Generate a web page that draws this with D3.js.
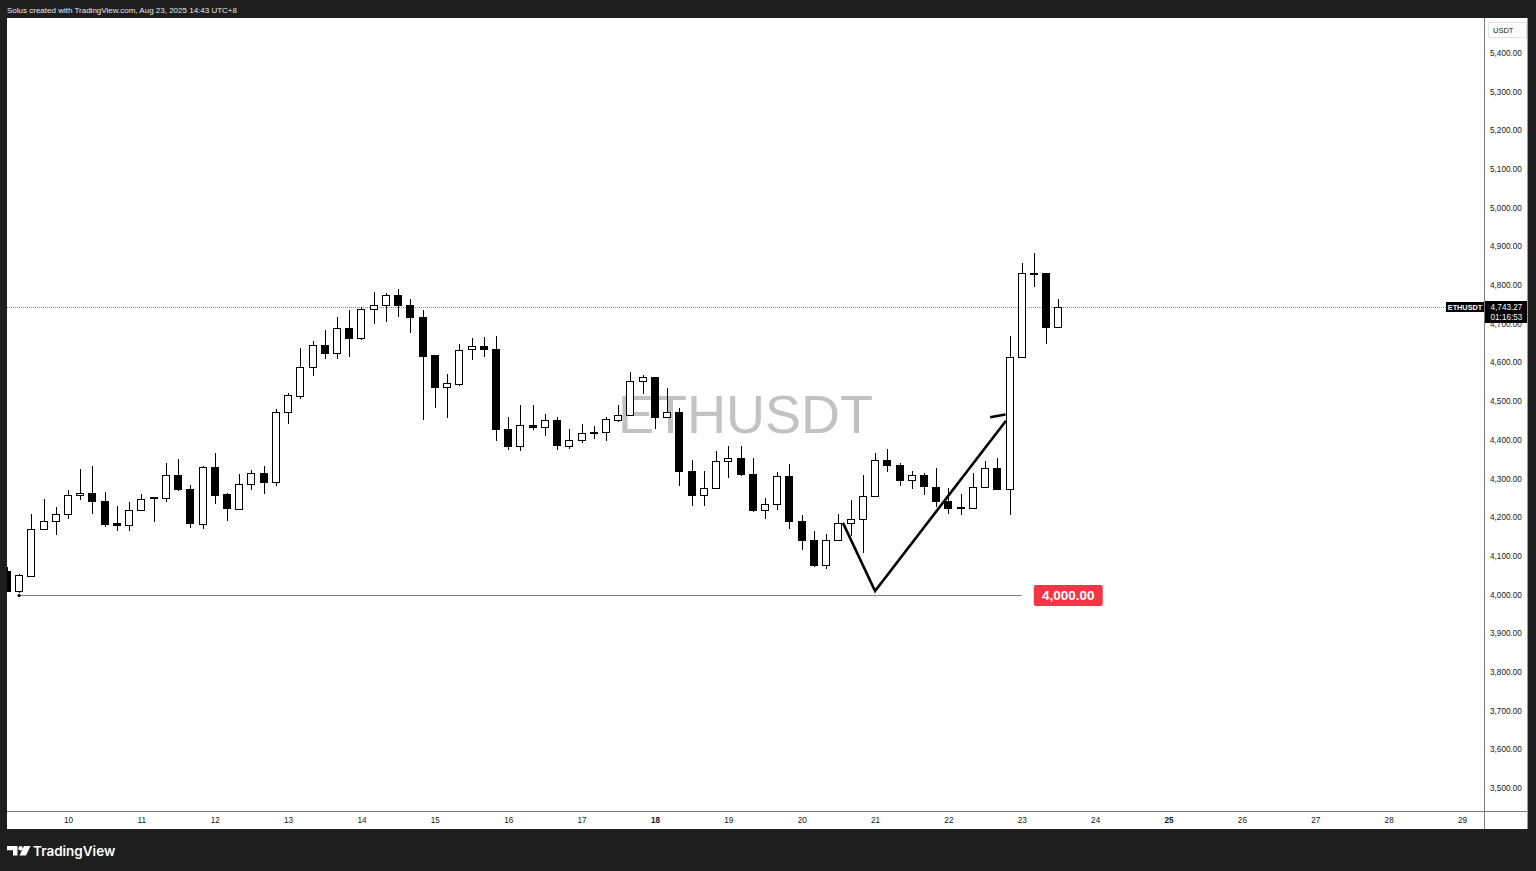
<!DOCTYPE html>
<html>
<head>
<meta charset="utf-8">
<title>ETHUSDT 4H</title>
<script src="https://cdn.jsdelivr.net/npm/d3@7/dist/d3.min.js"></script>
<style>
  html, body { margin: 0; padding: 0; background: #1e1e1e; overflow: hidden; }
  svg { display: block; }
</style>
</head>
<body>
<svg id="chart" width="1536" height="871"></svg>
<script>
// ETHUSDT, 4-hour candles, wall-clock times in UTC+8
const symbol = "ETHUSDT";
const quoteCurrency = "USDT";
const headerText = "Solus created with TradingView.com, Aug 23, 2025 14:43 UTC+8";
const firstBarTime = "2025-08-09T04:00:00Z";
const barHours = 4;

const opens = [
  4060, 4010, 4048, 4170, 4189,
  4209, 4258, 4262, 4242, 4184, 4180,
  4219, 4249, 4250, 4308, 4273, 4183,
  4329, 4259, 4221, 4286, 4314, 4290,
  4471, 4514, 4588, 4646, 4625, 4689,
  4662, 4738, 4748, 4773, 4748, 4718,
  4618, 4537, 4545, 4634, 4641, 4634,
  4428, 4383, 4437, 4432, 4451, 4385,
  4400, 4419, 4421, 4452, 4465, 4552,
  4561, 4459, 4471, 4320, 4256, 4274,
  4344, 4354, 4311, 4219, 4234, 4307,
  4191, 4140, 4076, 4140, 4185, 4194,
  4255, 4347, 4335, 4295, 4310, 4278,
  4241, 4223, 4224, 4277, 4327, 4273,
  4613, 4831, 4830, 4692
];
const highs = [
  4070, 4052, 4209, 4247, 4225,
  4271, 4325, 4333, 4265, 4230, 4238,
  4260, 4252, 4341, 4350, 4282, 4331,
  4366, 4262, 4312, 4321, 4333, 4479,
  4521, 4637, 4655, 4684, 4717, 4735,
  4742, 4781, 4779, 4789, 4764, 4734,
  4620, 4570, 4647, 4662, 4665, 4669,
  4460, 4490, 4490, 4466, 4458, 4428,
  4440, 4435, 4460, 4490, 4575, 4566,
  4563, 4533, 4482, 4348, 4318, 4370,
  4385, 4385, 4354, 4250, 4317, 4338,
  4205, 4164, 4157, 4209, 4243, 4308,
  4366, 4377, 4340, 4320, 4314, 4327,
  4275, 4261, 4314, 4344, 4353, 4667,
  4858, 4883, 4832, 4763
];
const lows = [
  4008, 4003, 4045, 4166, 4154,
  4194, 4244, 4208, 4175, 4163, 4163,
  4215, 4187, 4239, 4267, 4172, 4168,
  4234, 4189, 4218, 4269, 4260, 4280,
  4441, 4505, 4565, 4608, 4608, 4615,
  4658, 4698, 4704, 4718, 4675, 4452,
  4482, 4456, 4538, 4605, 4613, 4396,
  4374, 4370, 4426, 4410, 4374, 4377,
  4391, 4403, 4396, 4447, 4462, 4519,
  4428, 4455, 4280, 4230, 4228, 4273,
  4301, 4307, 4212, 4194, 4219, 4170,
  4116, 4071, 4065, 4138, 4150, 4108,
  4253, 4317, 4280, 4273, 4258, 4226,
  4209, 4206, 4222, 4275, 4271, 4206,
  4610, 4796, 4647, 4690
];
const closes = [
  4009, 4050, 4170, 4189, 4208,
  4257, 4262, 4241, 4183, 4180, 4219,
  4248, 4251, 4309, 4273, 4184, 4330,
  4258, 4224, 4286, 4314, 4290, 4471,
  4515, 4588, 4646, 4625, 4689, 4662,
  4738, 4748, 4773, 4748, 4717, 4617,
  4537, 4546, 4633, 4641, 4634, 4428,
  4383, 4439, 4432, 4451, 4386, 4400,
  4417, 4421, 4453, 4465, 4552, 4561,
  4459, 4472, 4320, 4256, 4275, 4344,
  4354, 4311, 4218, 4234, 4307, 4191,
  4140, 4075, 4140, 4185, 4194, 4255,
  4347, 4335, 4295, 4310, 4280, 4241,
  4224, 4225, 4278, 4327, 4273, 4615,
  4830, 4829, 4692, 4743.27
];

// axis ticks
const dayTicks = [10, 11, 12, 13, 14, 15, 16, 17, 18, 19, 20, 21, 22, 23, 24, 25, 26, 27, 28, 29];
const boldDays = [18, 25];
const priceTicks = [3500, 3600, 3700, 3800, 3900, 4000, 4100, 4200, 4300, 4400, 4500, 4600, 4700, 4800, 4900, 5000, 5100, 5200, 5300, 5400];

// last price tag
const lastPrice = 4743.27;
const countdown = "01:16:53";

// horizontal support ray
const supportLevel = 4000;
const supportStart = "2025-08-09T08:00:00Z";
const supportEnd = "2025-08-23T00:00:00Z";

// hand-drawn path (V shape)
const pathTimes = ["2025-08-20T13:30:00Z", "2025-08-21T00:00:00Z", "2025-08-22T18:50:00Z"];
const pathPrices = [4185, 4009, 4449];
const tickTimes = ["2025-08-22T13:40:00Z", "2025-08-22T18:40:00Z"];
const tickPrices = [4458, 4465];

// ---------------------------------------------------------------
const W = 1536, H = 871;
const plotL = 7, plotR = 1484, plotT = 18, plotB = 811;
const paneR = 1527, paneB = 829;
const font = "'Liberation Sans', Arial, sans-serif";
const ink = "#131722";

const svg = d3.select("#chart");

const x = d3.scaleUtc()
  .domain([new Date(Date.UTC(2025, 7, 10)), new Date(Date.UTC(2025, 7, 29))])
  .range([68, 1462]);
const y = d3.scaleLinear()
  .domain([4000, 5400])
  .range([594.5, 52.8]);

const t0 = new Date(firstBarTime).getTime();
const bars = opens.map((o, i) => ({
  t: new Date(t0 + i * barHours * 3600e3),
  o, h: highs[i], l: lows[i], c: closes[i]
}));

// frame
svg.append("rect").attr("width", W).attr("height", H).attr("fill", "#1e1e1e");
svg.append("rect").attr("x", plotL).attr("y", plotT)
  .attr("width", paneR - plotL).attr("height", paneB - plotT).attr("fill", "#ffffff");

svg.append("text").attr("x", 7).attr("y", 12.5)
  .attr("font-family", font).attr("font-size", 8).attr("fill", "#e8e8e8")
  .text(headerText);

// clip for the price pane
svg.append("defs").append("clipPath").attr("id", "pane")
  .append("rect").attr("x", plotL).attr("y", plotT)
  .attr("width", plotR - plotL).attr("height", plotB - plotT);

const pane = svg.append("g").attr("clip-path", "url(#pane)");

// symbol watermark
pane.append("text")
  .attr("x", (plotL + plotR) / 2).attr("y", 433)
  .attr("text-anchor", "middle")
  .attr("font-family", font).attr("font-size", 54)
  .attr("fill", "#c2c2c2")
  .text(symbol);

// last price dotted line
pane.append("line")
  .attr("x1", plotL).attr("x2", plotR)
  .attr("y1", Math.round(y(lastPrice)) + 0.5).attr("y2", Math.round(y(lastPrice)) + 0.5)
  .attr("stroke", "#8f8f8f").attr("stroke-width", 1).attr("stroke-dasharray", "1,1");

// support ray
const sY = Math.round(y(supportLevel)) + 0.5;
pane.append("line")
  .attr("x1", x(new Date(supportStart))).attr("x2", x(new Date(supportEnd)))
  .attr("y1", sY).attr("y2", sY)
  .attr("stroke", "#808080").attr("stroke-width", 1);

// candles
const candle = pane.append("g").selectAll("g").data(bars).join("g");
candle.append("rect")
  .attr("x", d => Math.round(x(d.t)) - 0.5)
  .attr("width", 1)
  .attr("y", d => y(d.h))
  .attr("height", d => y(d.l) - y(d.h))
  .attr("fill", "#000")
  .attr("shape-rendering", "crispEdges");
candle.append("rect")
  .attr("x", d => Math.round(x(d.t)) - 3.5)
  .attr("width", 7)
  .attr("y", d => Math.round(y(Math.max(d.o, d.c))) + 0.5)
  .attr("height", d => Math.max(1, Math.round(y(Math.min(d.o, d.c))) - Math.round(y(Math.max(d.o, d.c)))))
  .attr("fill", d => d.c >= d.o ? "#ffffff" : "#000000")
  .attr("stroke", "#000")
  .attr("stroke-width", 1);

// support start dot
pane.append("circle")
  .attr("cx", x(new Date(supportStart))).attr("cy", sY).attr("r", 1.6).attr("fill", "#000");

// V drawing
const line = d3.line().x(d => x(d[0])).y(d => y(d[1]));
pane.append("path")
  .attr("d", line(pathTimes.map((t, i) => [new Date(t), pathPrices[i]])))
  .attr("fill", "none").attr("stroke", "#000").attr("stroke-width", 2.6)
  .attr("stroke-linejoin", "miter");
pane.append("path")
  .attr("d", line(tickTimes.map((t, i) => [new Date(t), tickPrices[i]])))
  .attr("fill", "none").attr("stroke", "#000").attr("stroke-width", 2.6);

// support price tag
const tagX = x(new Date(supportEnd)) + 12;
pane.append("rect")
  .attr("x", tagX).attr("y", sY - 10.5).attr("width", 69).attr("height", 21)
  .attr("rx", 2).attr("fill", "#f23645");
pane.append("text")
  .attr("x", tagX + 34.5).attr("y", sY + 4.5)
  .attr("text-anchor", "middle")
  .attr("font-family", font).attr("font-weight", "bold").attr("font-size", 13.5)
  .attr("fill", "#fff")
  .text(d3.format(",.2f")(supportLevel));

// pane separators
svg.append("line").attr("x1", plotR + 0.5).attr("x2", plotR + 0.5)
  .attr("y1", plotT).attr("y2", paneB).attr("stroke", "#7a7a7a");
svg.append("line").attr("x1", plotL).attr("x2", paneR)
  .attr("y1", plotB + 0.5).attr("y2", plotB + 0.5).attr("stroke", "#7a7a7a");
svg.append("line").attr("x1", paneR + 0.5).attr("x2", paneR + 0.5)
  .attr("y1", plotT).attr("y2", paneB).attr("stroke", "#9a9a9a");

// price axis
const yAxis = svg.append("g")
  .attr("transform", `translate(${plotR},0)`)
  .call(d3.axisRight(y).tickValues(priceTicks).tickFormat(d3.format(",.2f")).tickSize(0).tickPadding(6));
yAxis.select(".domain").remove();
yAxis.selectAll("text")
  .attr("font-family", font).attr("font-size", 8.2).attr("fill", ink);

// currency box
svg.append("rect").attr("x", 1488.5).attr("y", 22.5).attr("width", 38).attr("height", 15)
  .attr("fill", "#fff").attr("stroke", "#e4e4e4");
svg.append("text").attr("x", 1493).attr("y", 33)
  .attr("font-family", font).attr("font-size", 7.5).attr("fill", ink)
  .text(quoteCurrency);

// time axis
const xAxis = svg.append("g")
  .attr("transform", `translate(0,${plotB})`)
  .call(d3.axisBottom(x)
    .tickValues(dayTicks.map(d => new Date(Date.UTC(2025, 7, d))))
    .tickFormat(d3.utcFormat("%-d"))
    .tickSize(0).tickPadding(6));
xAxis.select(".domain").remove();
xAxis.selectAll("text")
  .attr("font-family", font).attr("font-size", 8.2).attr("fill", ink)
  .attr("font-weight", d => boldDays.includes(d.getUTCDate()) ? "bold" : "normal");

// last price tags on the axis
const lpY = y(lastPrice);
svg.append("rect").attr("x", 1446).attr("y", Math.round(lpY) - 5).attr("width", 38).attr("height", 10)
  .attr("fill", "#000");
svg.append("text").attr("x", 1465).attr("y", Math.round(lpY) + 3)
  .attr("text-anchor", "middle")
  .attr("font-family", font).attr("font-weight", "bold").attr("font-size", 7.3).attr("fill", "#fff")
  .text(symbol);
svg.append("rect").attr("x", 1485).attr("y", Math.round(lpY) - 6).attr("width", 42).attr("height", 22)
  .attr("fill", "#000");
svg.append("text").attr("x", 1490.5).attr("y", Math.round(lpY) + 3)
  .attr("font-family", font).attr("font-size", 8.2).attr("fill", "#fff")
  .text(d3.format(",.2f")(lastPrice));
svg.append("text").attr("x", 1490.5).attr("y", Math.round(lpY) + 12.5)
  .attr("font-family", font).attr("font-size", 8.2).attr("fill", "#fff")
  .text(countdown);

// footer logo
const logo = svg.append("g").attr("fill", "#ffffff");
logo.append("path").attr("d", "M7,846 H17.5 V855.5 H13 V850.2 H7 Z");
logo.append("circle").attr("cx", 20.6).attr("cy", 848.2).attr("r", 2.2);
logo.append("path").attr("d", "M24,846 H30.5 L26,855.5 H19.5 Z");
logo.append("text").attr("x", 33).attr("y", 855.5)
  .attr("font-family", "Inter, 'Liberation Sans', Arial, sans-serif").attr("font-weight", 600)
  .attr("font-size", 13.5).attr("fill", "#ffffff")
  .text("TradingView");
</script>
</body>
</html>
